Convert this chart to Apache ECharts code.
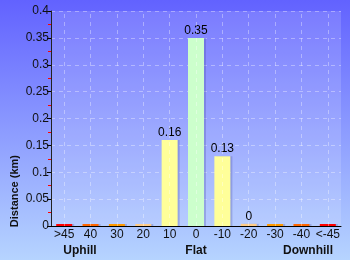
<!DOCTYPE html>
<html>
<head>
<meta charset="utf-8">
<script src="https://cdn.jsdelivr.net/npm/echarts@6/dist/echarts.min.js"></script>
<style>
  html, body { margin: 0; padding: 0; }
  #chart { width: 350px; height: 260px; }
</style>
</head>
<body>
<div id="chart"></div>
<script>
// gradient categories (%)
let categories = ['>45', '40', '30', '20', '10', '0', '-10', '-20', '-30', '-40', '<-45']
// distance per gradient band (km)
let distances = [0, 0, 0, 0, 0.16, 0.35, 0.13, 0.004, 0, 0, 0]
let barColors = ['#ff0000', '#ff6600', '#ff9900', '#ffcc88', '#ffff99', '#ccffcc',
  '#ffff99', '#ffcc88', '#ff9900', '#ff6600', '#ff0000']
let yTicks = [0, 0.05, 0.1, 0.15, 0.2, 0.25, 0.3, 0.35, 0.4]
let groupLabels = ['Uphill', 'Flat', 'Downhill']

let chart = echarts.init(document.getElementById('chart'), null, { renderer: 'canvas' })

let font = '"Liberation Sans", Arial, sans-serif'

let option = {
  animation: false,
  backgroundColor: new echarts.graphic.LinearGradient(0, 0, 0, 1, [
    { offset: 0, color: '#6262ff' },
    { offset: 1, color: '#b6d4ff' }
  ]),
  grid: {
    left: 51, right: 9, top: 11, bottom: 34,
    show: true,
    borderWidth: 0,
    backgroundColor: 'rgba(255,255,255,0.14)'
  },
  xAxis: {
    type: 'category',
    data: categories,
    axisLine: { lineStyle: { color: '#000', width: 1 } },
    axisTick: { show: false },
    axisLabel: { interval: 0, color: '#111', fontSize: 12, fontFamily: font, margin: 3 },
    splitLine: { show: false }
  },
  yAxis: {
    type: 'value',
    min: 0,
    max: yTicks[yTicks.length - 1],
    interval: 0.05,
    axisLine: { show: true, lineStyle: { color: '#222', width: 1 } },
    axisTick: { show: true, length: 4, lineStyle: { color: '#000' } },
    minorTick: { show: true, splitNumber: 2, length: 3, lineStyle: { color: '#ff0000' } },
    axisLabel: { color: '#111', fontSize: 12, fontFamily: font, margin: 2 },
    splitLine: { show: true, lineStyle: { color: 'rgba(255,255,255,0.35)', type: [4, 4] } }
  },
  graphic: [
    {
      type: 'text', left: 9, top: 155, rotation: Math.PI / 2,
      style: { text: 'Distance (km)', fill: '#111', font: 'bold 11px ' + font }
    },
    {
      type: 'text', x: 80, y: 251,
      style: { text: groupLabels[0], fill: '#111', font: 'bold 12px ' + font, textAlign: 'center', textVerticalAlign: 'middle' }
    },
    {
      type: 'text', x: 196, y: 251,
      style: { text: groupLabels[1], fill: '#111', font: 'bold 12px ' + font, textAlign: 'center', textVerticalAlign: 'middle' }
    },
    {
      type: 'text', x: 308, y: 251,
      style: { text: groupLabels[2], fill: '#111', font: 'bold 12px ' + font, textAlign: 'center', textVerticalAlign: 'middle' }
    }
  ],
  series: [
    {
      // vertical grid lines at category centres
      type: 'line',
      data: [],
      z: 1,
      markLine: {
        silent: true,
        symbol: 'none',
        label: { show: false },
        lineStyle: { color: 'rgba(255,255,255,0.35)', type: [4, 4], width: 1 },
        data: categories.map(c => ({ xAxis: c }))
      }
    },
    {
      type: 'bar',
      z: 3,
      barWidth: 16,
      barMinHeight: 2,
      data: distances.map((v, i) => ({
        value: v,
        itemStyle: { color: barColors[i] }
      })),
      itemStyle: {
        shadowColor: 'rgba(60,60,150,0.25)',
        shadowOffsetX: 2,
        shadowBlur: 0
      },
      label: {
        show: true,
        position: 'top',
        distance: 1,
        color: '#000',
        fontSize: 12,
        fontFamily: font,
        formatter: p => p.value > 0 ? String(+p.value.toFixed(2)) : ''
      }
    }
  ]
}

chart.setOption(option)
</script>
</body>
</html>
